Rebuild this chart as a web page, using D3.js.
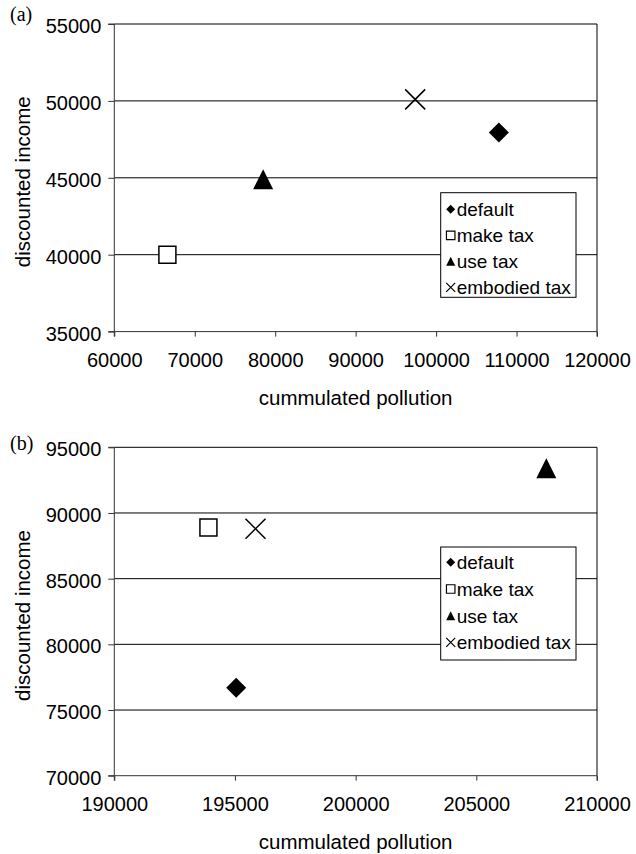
<!DOCTYPE html>
<html>
<head>
<meta charset="utf-8">
<script src="https://cdn.jsdelivr.net/npm/d3@7"></script>
<style>
  html, body { margin: 0; padding: 0; background: #fff; }
  svg { display: block; }
  text { font-family: "Liberation Sans", Arial, sans-serif; fill: #000; }
</style>
</head>
<body>
<svg id="chart" width="636" height="854"></svg>
<script>
// ---------- data ----------
const seriesNames = ["default", "make tax", "use tax", "embodied tax"];
const seriesSymbols = ["diamond", "square", "triangle", "cross"];

// panel (a)
const panelA_x = [107800, 66600, 78500, 97400];
const panelA_y = [47950, 40000, 44900, 50100];
const panelA_xTicks = [60000, 70000, 80000, 90000, 100000, 110000, 120000];
const panelA_yTicks = [35000, 40000, 45000, 50000, 55000];

// panel (b)
const panelB_x = [195050, 193900, 207900, 195850];
const panelB_y = [76700, 88900, 93400, 88800];
const panelB_xTicks = [190000, 195000, 200000, 205000, 210000];
const panelB_yTicks = [70000, 75000, 80000, 85000, 90000, 95000];

const xTitle = "cummulated pollution";
const yTitle = "discounted income";

// ---------- drawing ----------
const svg = d3.select("#chart");

function symbolPath(type, s) {
  const h = s / 2;
  switch (type) {
    case "diamond": return `M0,${-h}L${h},0L0,${h}L${-h},0Z`;
    case "square": return `M${-h},${-h}H${h}V${h}H${-h}Z`;
    case "triangle": return `M0,${-h}L${h},${h}L${-h},${h}Z`;
    case "cross": return `M${-h},${-h}L${h},${h}M${h},${-h}L${-h},${h}`;
  }
}
function symbolStyle(sel, type, sw) {
  if (type === "square") sel.attr("fill", "#fff").attr("stroke", "#000").attr("stroke-width", sw);
  else if (type === "cross") sel.attr("fill", "none").attr("stroke", "#000").attr("stroke-width", sw);
  else sel.attr("fill", "#000").attr("stroke", "none");
}

function drawPanel(cfg) {
  const g = svg.append("g");
  const x = d3.scaleLinear().domain(d3.extent(cfg.xTicks)).range([cfg.left, cfg.right]);
  const y = d3.scaleLinear().domain(d3.extent(cfg.yTicks)).range([cfg.bottom, cfg.top]);

  // gridlines
  g.selectAll("line.grid").data(cfg.yTicks.slice(1)).join("line")
    .attr("x1", cfg.left).attr("x2", cfg.right)
    .attr("y1", d => y(d)).attr("y2", d => y(d))
    .attr("stroke", "#000").attr("stroke-width", 1);
  // right border
  g.append("line").attr("x1", cfg.right).attr("x2", cfg.right)
    .attr("y1", cfg.top).attr("y2", cfg.bottom).attr("stroke", "#000");

  // y axis
  const yAxis = d3.axisLeft(y).tickValues(cfg.yTicks).tickSize(6).tickPadding(7).tickFormat(d3.format("d"));
  const ya = g.append("g").attr("transform", `translate(${cfg.left},0)`).call(yAxis);
  ya.select(".domain").attr("stroke", "#333").attr("d", `M-6,${cfg.top}H0V${cfg.bottom}H-6`);
  ya.selectAll(".tick line").attr("stroke", "#333");
  ya.selectAll("text").attr("font-size", 20).attr("font-family", "Liberation Sans, Arial, sans-serif").attr("dy", "0.42em");

  // x axis
  const xAxis = d3.axisBottom(x).tickValues(cfg.xTicks).tickSize(5).tickPadding(16).tickFormat(d3.format("d"));
  const xa = g.append("g").attr("transform", `translate(0,${cfg.bottom})`).call(xAxis);
  xa.select(".domain").attr("stroke", "#333").attr("d", `M${cfg.left},5V0H${cfg.right}V5`);
  xa.selectAll(".tick line").attr("stroke", "#333");
  xa.selectAll("text").attr("font-size", 20).attr("font-family", "Liberation Sans, Arial, sans-serif");

  // axis titles
  g.append("text").attr("x", (cfg.left + cfg.right) / 2).attr("y", cfg.bottom + 73)
    .attr("text-anchor", "middle").attr("font-size", 20.5).text(xTitle);
  g.append("text")
    .attr("transform", `translate(${cfg.yTitleX},${(cfg.top + cfg.bottom) / 2 + 4}) rotate(-90)`)
    .attr("text-anchor", "middle").attr("font-size", 20.5).text(yTitle);

  // panel label
  g.append("text").attr("x", 10).attr("y", cfg.labelY)
    .attr("font-size", 20)
    .style("font-family", "'Liberation Serif', 'Times New Roman', serif").text(cfg.label);

  // points
  const pts = seriesNames.map((n, i) => ({ name: n, sym: seriesSymbols[i], x: cfg.xs[i], y: cfg.ys[i] }));
  g.selectAll("path.pt").data(pts).join("path")
    .attr("transform", d => `translate(${x(d.x)},${y(d.y)})`)
    .attr("d", d => symbolPath(d.sym, d.sym === "square" ? 17 : 20))
    .each(function (d) { symbolStyle(d3.select(this), d.sym, 1.5); });

  // legend
  const lg = g.append("g");
  lg.append("rect").attr("x", cfg.legX).attr("y", cfg.legTop)
    .attr("width", cfg.legW).attr("height", cfg.legH)
    .attr("fill", "#fff").attr("stroke", "#000").attr("stroke-width", 1);
  const rows = lg.selectAll("g.row").data(pts).join("g")
    .attr("transform", (d, i) => `translate(${cfg.legX + 10},${cfg.legFirst + i * cfg.legStep})`);
  rows.append("path")
    .attr("d", d => symbolPath(d.sym, d.sym === "square" ? 8.5 : 9))
    .each(function (d) { symbolStyle(d3.select(this), d.sym, 1.2); });
  rows.append("text").attr("x", 6).attr("dy", "0.36em").attr("font-size", 19).text(d => d.name);
}

drawPanel({
  label: "(a)", labelY: 21,
  xTicks: panelA_xTicks, yTicks: panelA_yTicks, xs: panelA_x, ys: panelA_y,
  left: 114.3, right: 597, top: 24, bottom: 331.6, yTitleX: 30,
  legX: 440.7, legTop: 192.7, legW: 135.3, legH: 104.6, legFirst: 209.3, legStep: 26
});
drawPanel({
  label: "(b)", labelY: 450,
  xTicks: panelB_xTicks, yTicks: panelB_yTicks, xs: panelB_x, ys: panelB_y,
  left: 114.3, right: 597, top: 447.3, bottom: 775.7, yTitleX: 30,
  legX: 440.7, legTop: 547, legW: 135.3, legH: 113, legFirst: 562.3, legStep: 26.7
});
</script>
</body>
</html>
